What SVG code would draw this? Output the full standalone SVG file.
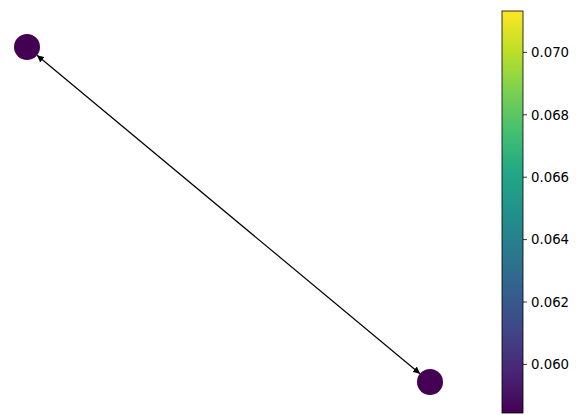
<svg xmlns="http://www.w3.org/2000/svg" width="576" height="415" viewBox="0 0 576 415">
<style>
.node{fill:#440154;}
.edge{stroke:#000;stroke-width:1.2;fill:none;}
.tick{stroke:#000;stroke-width:0.8;}
.lbl{font-family:"DejaVu Sans",sans-serif;font-size:13.3px;fill:#000;}
</style>
<defs>
<linearGradient id="viridis" x1="0" y1="1" x2="0" y2="0">
<stop offset="0" stop-color="#440154"/>
<stop offset="0.1" stop-color="#482475"/>
<stop offset="0.2" stop-color="#414487"/>
<stop offset="0.3" stop-color="#355f8d"/>
<stop offset="0.4" stop-color="#2a788e"/>
<stop offset="0.5" stop-color="#21918c"/>
<stop offset="0.6" stop-color="#22a884"/>
<stop offset="0.7" stop-color="#44bf70"/>
<stop offset="0.8" stop-color="#7ad151"/>
<stop offset="0.9" stop-color="#bddf26"/>
<stop offset="1" stop-color="#fde725"/>
</linearGradient>
<marker id="ah" viewBox="0 0 10 10" refX="10" refY="5" markerWidth="7" markerHeight="7" markerUnits="userSpaceOnUse" orient="auto-start-reverse">
<path d="M0,0 L10,5 L0,10 z" fill="#000"/>
</marker>
</defs>
<g id="connectors">
<line class="edge" x1="37" y1="55.3" x2="420" y2="373.7" marker-start="url(#ah)" marker-end="url(#ah)"/>
</g>
<g id="node0"><circle class="node" cx="27" cy="47" r="13"/></g>
<g id="node1"><circle class="node" cx="430" cy="382" r="13"/></g>
<g id="colorbar">
<rect x="502" y="11" width="21" height="402" fill="url(#viridis)" stroke="#000" stroke-width="0.8"/>
<line class="tick" x1="523" y1="52.4" x2="527" y2="52.4"/>
<line class="tick" x1="523" y1="114.8" x2="527" y2="114.8"/>
<line class="tick" x1="523" y1="177.2" x2="527" y2="177.2"/>
<line class="tick" x1="523" y1="239.6" x2="527" y2="239.6"/>
<line class="tick" x1="523" y1="302" x2="527" y2="302"/>
<line class="tick" x1="523" y1="364.4" x2="527" y2="364.4"/>
<text class="lbl" x="531" y="57.2">0.070</text>
<text class="lbl" x="531" y="119.6">0.068</text>
<text class="lbl" x="531" y="182">0.066</text>
<text class="lbl" x="531" y="244.4">0.064</text>
<text class="lbl" x="531" y="306.8">0.062</text>
<text class="lbl" x="531" y="369.2">0.060</text>
</g>
</svg>
